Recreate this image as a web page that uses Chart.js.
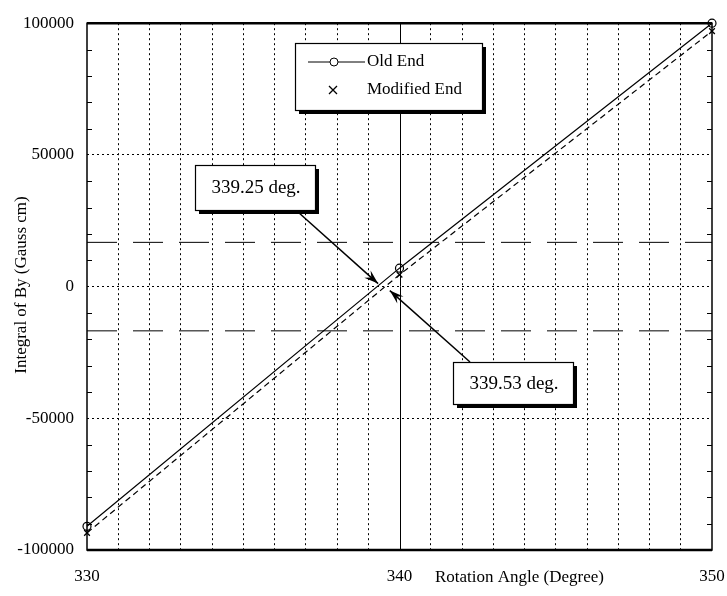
<!DOCTYPE html>
<html>
<head>
<meta charset="utf-8">
<title>Integral of By vs Rotation Angle</title>
<script src="https://cdn.jsdelivr.net/npm/chart.js"></script>
<style>
  body { margin: 0; background: #fff; }
  canvas { display: block; }
</style>
</head>
<body>
<canvas id="myChart" width="727" height="596"></canvas>
<script>
// data
const angles = [330, 340, 350];
const oldEnd = [-91000, 7000, 100000];
const modifiedEnd = [-93500, 4500, 97000];
const bandLimits = [16800, -16800];
const xTickLabels = [330, 340, 350];
const yTickLabels = [-100000, -50000, 0, 50000, 100000];
const crossings = [339.25, 339.53];
const crossingLabels = ['339.25 deg.', '339.53 deg.'];

const FONT = '"Liberation Serif", "Times New Roman", serif';

const toPoints = (xs, ys) => xs.map((x, i) => ({ x: x, y: ys[i] }));

const extras = {
  id: 'extras',
  beforeDatasetsDraw(chart) {
    const { ctx, chartArea: a, scales: { x, y } } = chart;
    ctx.save();
    // solid line at 340
    ctx.strokeStyle = '#000';
    ctx.lineWidth = 1;
    const x340 = Math.round(x.getPixelForValue(340)) + 0.5;
    ctx.beginPath();
    ctx.moveTo(x340, a.top);
    ctx.lineTo(x340, a.bottom);
    ctx.stroke();
    // minor ticks on left and right axes
    for (let v = -90000; v < 100000; v += 10000) {
      if (v % 50000 === 0) continue;
      const py = Math.round(y.getPixelForValue(v)) + 0.5;
      ctx.beginPath();
      ctx.moveTo(a.left, py); ctx.lineTo(a.left + 5, py);
      ctx.moveTo(a.right, py); ctx.lineTo(a.right - 5, py);
      ctx.stroke();
    }
    ctx.restore();
  },
  afterDraw(chart) {
    const { ctx, chartArea: a, scales: { x, y } } = chart;
    ctx.save();
    // frame
    ctx.strokeStyle = '#000';
    ctx.lineWidth = 1.5;
    ctx.strokeRect(a.left, a.top, a.right - a.left, a.bottom - a.top);
    ctx.lineWidth = 2.5;
    ctx.beginPath();
    ctx.moveTo(a.left, a.bottom); ctx.lineTo(a.right, a.bottom);
    ctx.moveTo(a.left, a.top); ctx.lineTo(a.right, a.top);
    ctx.stroke();

    // axis titles
    ctx.fillStyle = '#000';
    ctx.font = '17px ' + FONT;
    ctx.textAlign = 'left';
    ctx.textBaseline = 'middle';
    ctx.fillText('Rotation Angle (Degree)', 435, 578);
    ctx.save();
    ctx.translate(22, 285);
    ctx.rotate(-Math.PI / 2);
    ctx.textAlign = 'center';
    ctx.fillText('Integral of By (Gauss cm)', 0, 0);
    ctx.restore();

    const shadowBox = (bx, by, w, h) => {
      ctx.fillStyle = '#000';
      ctx.fillRect(bx + 4, by + 4, w, h);
      ctx.fillStyle = '#fff';
      ctx.fillRect(bx, by, w, h);
      ctx.lineWidth = 1.2;
      ctx.strokeStyle = '#000';
      ctx.strokeRect(bx + 0.5, by + 0.5, w, h);
    };

    const arrow = (x1, y1, x2, y2) => {
      const ang = Math.atan2(y2 - y1, x2 - x1);
      ctx.strokeStyle = '#000';
      ctx.lineWidth = 1.5;
      ctx.beginPath();
      ctx.moveTo(x1, y1);
      ctx.lineTo(x2, y2);
      ctx.stroke();
      const len = 15, half = 0.32;
      ctx.fillStyle = '#000';
      ctx.beginPath();
      ctx.moveTo(x2, y2);
      ctx.lineTo(x2 - len * Math.cos(ang - half), y2 - len * Math.sin(ang - half));
      ctx.lineTo(x2 - len * 0.6 * Math.cos(ang), y2 - len * 0.6 * Math.sin(ang));
      ctx.lineTo(x2 - len * Math.cos(ang + half), y2 - len * Math.sin(ang + half));
      ctx.closePath();
      ctx.fill();
    };

    // legend
    shadowBox(295, 43, 187, 67);
    ctx.strokeStyle = '#000';
    ctx.lineWidth = 1;
    ctx.beginPath();
    ctx.moveTo(308, 62); ctx.lineTo(330, 62);
    ctx.moveTo(338, 62); ctx.lineTo(365, 62);
    ctx.stroke();
    ctx.beginPath();
    ctx.arc(334, 62, 4, 0, Math.PI * 2);
    ctx.stroke();
    ctx.lineWidth = 1.3;
    ctx.beginPath();
    ctx.moveTo(329, 86); ctx.lineTo(337, 94);
    ctx.moveTo(337, 86); ctx.lineTo(329, 94);
    ctx.stroke();
    ctx.fillStyle = '#000';
    ctx.font = '17px ' + FONT;
    ctx.textAlign = 'left';
    ctx.textBaseline = 'middle';
    ctx.fillText('Old End', 367, 62);
    ctx.fillText('Modified End', 367, 90);

    // crossing annotations
    const y0 = y.getPixelForValue(0);
    arrow(298, 212, x.getPixelForValue(crossings[0]) + 2, y0 - 3);
    arrow(470, 362, x.getPixelForValue(crossings[1]) + 5, y0 + 4);
    const boxes = [[195, 165, 120, 45], [453, 362, 120, 42]];
    boxes.forEach((b, i) => {
      shadowBox(b[0], b[1], b[2], b[3]);
      ctx.fillStyle = '#000';
      ctx.font = '19px ' + FONT;
      ctx.textAlign = 'center';
      ctx.textBaseline = 'middle';
      ctx.fillText(crossingLabels[i], b[0] + b[2] / 2 + 1, b[1] + b[3] / 2 + 1);
    });
    ctx.restore();
  }
};

const gridColor = (ends) => (c) => {
  if (c.tick && ends.includes(c.tick.value)) return 'rgba(0,0,0,0)';
  return '#000';
};

new Chart(document.getElementById('myChart'), {
  type: 'scatter',
  data: {
    datasets: [{
      label: 'Old End',
      data: toPoints(angles, oldEnd),
      showLine: true,
      borderColor: '#000',
      borderWidth: 1.2,
      pointStyle: 'circle',
      pointRadius: 4,
      pointBorderWidth: 1.2,
      pointBackgroundColor: 'rgba(255,255,255,0)',
      pointBorderColor: '#000',
      clip: false
    }, {
      label: 'Modified End',
      data: toPoints(angles, modifiedEnd),
      showLine: true,
      borderColor: '#000',
      borderWidth: 1.2,
      borderDash: [6, 4],
      pointStyle: 'crossRot',
      pointRadius: 4,
      pointBorderWidth: 1.3,
      pointBorderColor: '#000',
      clip: false
    }, {
      label: 'upper',
      data: toPoints([330, 350], [bandLimits[0], bandLimits[0]]),
      showLine: true,
      borderColor: '#000',
      borderWidth: 1,
      borderDash: [30, 16],
      pointRadius: 0
    }, {
      label: 'lower',
      data: toPoints([330, 350], [bandLimits[1], bandLimits[1]]),
      showLine: true,
      borderColor: '#000',
      borderWidth: 1,
      borderDash: [30, 16],
      pointRadius: 0
    }]
  },
  options: {
    responsive: false,
    animation: false,
    layout: { padding: { top: 15, right: 0, left: 0, bottom: 0 } },
    plugins: {
      legend: { display: false },
      tooltip: { enabled: false }
    },
    scales: {
      x: {
        type: 'linear',
        min: 330,
        max: 350,
        afterFit: (s) => { s.height = 46; s.paddingRight = 15; s.paddingLeft = 0; },
        ticks: {
          stepSize: 1,
          autoSkip: false,
          maxRotation: 0,
          padding: 16,
          color: '#000',
          font: { family: FONT, size: 17 },
          callback: (v) => xTickLabels.includes(v) ? String(v) : ''
        },
        grid: {
          color: gridColor([330, 340, 350]),
          lineWidth: 1,
          drawTicks: false
        },
        border: { display: false, dash: [2, 3] }
      },
      y: {
        min: -100000,
        max: 100000,
        afterFit: (s) => { s.width = 87; },
        ticks: {
          stepSize: 50000,
          padding: 13,
          color: '#000',
          font: { family: FONT, size: 17 },
          callback: (v) => yTickLabels.includes(v) ? String(v) : ''
        },
        grid: {
          color: gridColor([-100000, 100000]),
          lineWidth: 1,
          drawTicks: false
        },
        border: { display: false, dash: [2, 3] }
      }
    }
  },
  plugins: [extras]
});
</script>
</body>
</html>
